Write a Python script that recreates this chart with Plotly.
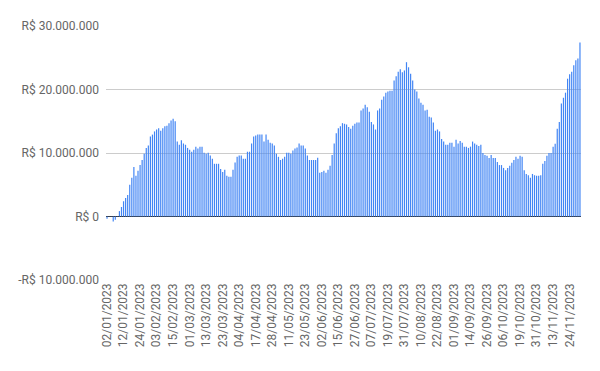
import pandas as pd
import plotly.graph_objects as go

# Trading days (B3 calendar 2023)
holidays = ["2023-02-20", "2023-02-21", "2023-04-07", "2023-04-21", "2023-05-01",
            "2023-06-08", "2023-09-07", "2023-10-12", "2023-11-02", "2023-11-15"]

values_millions = [
    -0.37, 0.05, 0.05, -0.8, -0.5, 0.05, 0.85, 1.5, 2.4, 2.9,
    3.4, 5.0, 6.1, 7.8, 6.4, 7.2, 8.1, 8.9, 9.9, 10.8,
    11.2, 12.6, 12.9, 13.4, 13.7, 13.9, 13.5, 13.9, 14.2, 14.3,
    14.7, 15.1, 15.4, 15.0, 11.8, 11.3, 12.0, 11.5, 11.3, 10.8,
    10.5, 10.2, 10.5, 11.0, 10.7, 11.0, 11.0, 10.05, 9.9, 10.05,
    9.6, 9.1, 8.3, 8.3, 8.3, 7.5, 7.0, 7.35, 6.4, 6.25,
    6.25, 7.35, 8.5, 9.4, 9.6, 9.6, 9.1, 9.1, 10.2, 10.2,
    11.5, 12.6, 12.75, 12.9, 12.9, 12.9, 11.8, 12.9, 12.1, 11.6,
    11.5, 11.2, 9.9, 9.4, 8.9, 9.1, 9.4, 10.05, 10.05, 9.9,
    10.4, 10.7, 10.85, 11.5, 11.2, 11.2, 10.7, 9.6, 8.9, 8.9,
    8.9, 8.9, 9.25, 6.9, 7.0, 7.2, 6.9, 7.35, 8.0, 9.7,
    11.5, 13.1, 13.9, 14.2, 14.7, 14.6, 14.5, 14.1, 13.8, 14.3,
    14.6, 14.8, 14.8, 16.7, 17.0, 17.6, 17.2, 16.5, 14.9, 14.5,
    13.7, 16.7, 17.0, 18.4, 18.9, 19.5, 19.7, 19.8, 19.8, 21.4,
    22.1, 22.8, 23.2, 22.7, 23.0, 24.3, 23.5, 22.5, 21.4, 20.0,
    19.7, 18.6, 17.9, 17.6, 16.7, 16.8, 15.7, 15.6, 14.8, 13.5,
    13.7, 13.4, 12.2, 11.8, 11.3, 11.3, 11.6, 11.6, 11.0, 12.1,
    11.5, 11.9, 11.6, 11.0, 11.0, 10.8, 11.0, 11.8, 11.5, 11.3,
    11.1, 11.3, 10.0, 9.7, 9.55, 9.2, 9.7, 9.2, 9.2, 8.6,
    8.1, 8.1, 7.65, 7.3, 7.65, 8.0, 8.45, 8.9, 9.4, 9.1,
    9.55, 9.4, 7.3, 6.7, 6.5, 6.1, 6.7, 6.5, 6.4, 6.4,
    6.5, 8.3, 8.75, 9.55, 10.0, 10.0, 11.0, 11.45, 13.8, 14.9,
    17.8, 18.7, 19.5, 21.7, 22.4, 22.8, 23.8, 24.6, 24.9, 27.4,
]

days = pd.bdate_range("2023-01-02", "2023-12-31", freq="C", holidays=holidays)
dates = [d.strftime("%d/%m/%Y") for d in days[:len(values_millions)]]
values = [v * 1_000_000 for v in values_millions]

tick_dates = dates[::8]
y_ticks = [-10_000_000, 0, 10_000_000, 20_000_000, 30_000_000]
y_labels = ["-R$ 10.000.000", "R$ 0", "R$ 10.000.000", "R$ 20.000.000", "R$ 30.000.000"]

# thin columns: each value is drawn as a stem from zero to the value
fig = go.Figure(go.Scatter(
    x=dates, y=values, mode="markers",
    marker=dict(size=1, color="rgba(0,0,0,0)"),
    error_y=dict(
        type="data", symmetric=False,
        array=[max(-v, 0) for v in values],
        arrayminus=[max(v, 0) for v in values],
        width=0, thickness=1.2, color="#4285F4",
    ),
    hoverinfo="x+y",
))

# the page body adds an 8px offset, so the figure is sized to fill the remaining window
fig.update_layout(
    width=592, height=363,
    margin=dict(l=98, r=19, t=18, b=91, autoexpand=False),
    paper_bgcolor="white", plot_bgcolor="white",
    showlegend=False,
    font=dict(family="Roboto, Arial, sans-serif", size=12, color="#666666"),
)
fig.update_xaxes(
    type="category", range=[-0.5, len(dates) - 0.5],
    tickmode="array", tickvals=tick_dates, ticktext=tick_dates,
    tickangle=-90, showgrid=False, showline=False, ticks="", zeroline=False,
    tickfont=dict(size=12, color="#666666"),
)
fig.update_yaxes(
    range=[-10_000_000, 30_000_000], tickmode="array", tickvals=y_ticks, ticktext=y_labels,
    showgrid=True, gridcolor="#cccccc", gridwidth=1,
    zeroline=True, zerolinecolor="#333333", zerolinewidth=1,
    showline=False, ticks="", ticklabelstandoff=6,
    tickfont=dict(size=12, color="#666666"),
)

fig.write_html("out.html")
